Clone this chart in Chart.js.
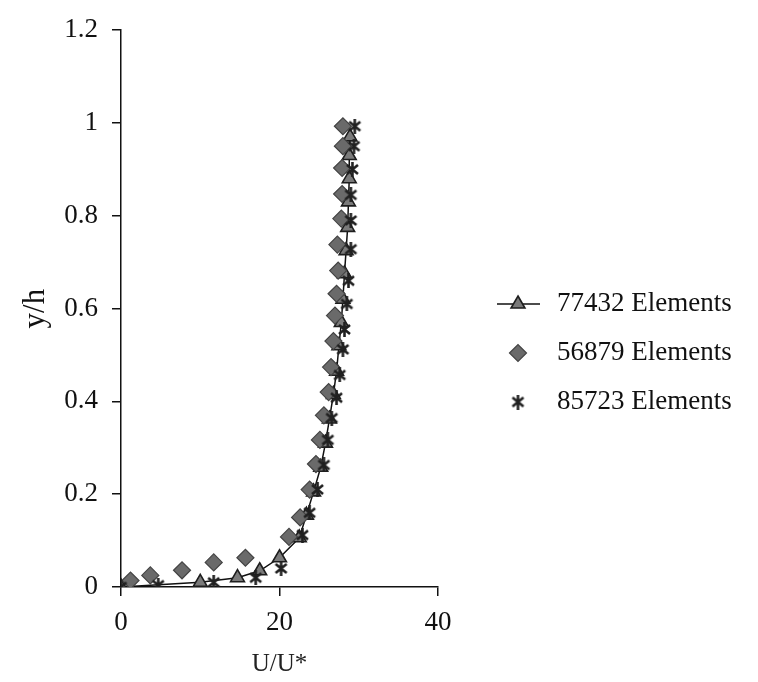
<!DOCTYPE html>
<html><head><meta charset="utf-8">
<script src="https://cdn.jsdelivr.net/npm/chart.js@4.4.1/dist/chart.umd.min.js"></script>
<style>html,body{margin:0;padding:0;background:#fff}#wrap{width:758px;height:682px}</style>
</head><body><div id="wrap"><canvas id="c" width="758" height="682"></canvas></div>
<script>
const seriesNames = ['77432 Elements', '56879 Elements', '85723 Elements'];

const x77432 = [0, 10, 14.7, 17.5, 20, 22.5, 23.4, 24.3, 25.2, 25.8, 26.3, 26.8, 27.2, 27.5, 27.8, 28.0, 28.2, 28.4, 28.6, 28.7, 28.8, 28.8, 28.9];
const y77432 = [0, 0.01, 0.02, 0.035, 0.063, 0.106, 0.155, 0.205, 0.258, 0.31, 0.362, 0.415, 0.465, 0.52, 0.57, 0.62, 0.675, 0.725, 0.775, 0.83, 0.88, 0.93, 0.97];

const x56879 = [1.2, 3.7, 7.7, 11.7, 15.7, 21.2, 22.6, 23.8, 24.6, 25.1, 25.6, 26.2, 26.5, 26.8, 27.0, 27.2, 27.4, 27.3, 27.8, 27.9, 27.9, 28.0, 28.0];
const y56879 = [0.014, 0.025, 0.036, 0.053, 0.063, 0.108, 0.15, 0.21, 0.265, 0.317, 0.37, 0.42, 0.474, 0.53, 0.585, 0.632, 0.682, 0.738, 0.794, 0.847, 0.903, 0.95, 0.993];

const x85723 = [0, 4.7, 11.7, 17.0, 20.2, 22.9, 23.8, 24.8, 25.6, 26.1, 26.6, 27.2, 27.6, 28.0, 28.2, 28.5, 28.7, 29.0, 29.0, 29.0, 29.2, 29.4, 29.5];
const y85723 = [0, 0.004, 0.01, 0.02, 0.04, 0.112, 0.16, 0.21, 0.263, 0.317, 0.364, 0.408, 0.457, 0.512, 0.555, 0.61, 0.66, 0.728, 0.79, 0.845, 0.9, 0.95, 0.993];

const xTicks = [0, 20, 40];
const yTicks = [0, 0.2, 0.4, 0.6, 0.8, 1, 1.2];

const xTitle = 'U/U*';
const yTitle = 'y/h';

function pts(xs, ys) { return xs.map((x, i) => ({x: x, y: ys[i]})); }

function makeStar(size, color, lw) {
  const c = document.createElement('canvas');
  c.width = size; c.height = size;
  const g = c.getContext('2d');
  g.strokeStyle = color; g.lineWidth = lw; g.lineCap = 'butt';
  const p = 2, q = size - 2;
  g.beginPath();
  g.moveTo(p, p + 1); g.lineTo(q, q - 1);
  g.moveTo(q, p + 1); g.lineTo(p, q - 1);
  g.moveTo(size / 2, 0); g.lineTo(size / 2, size);
  g.stroke();
  return c;
}
const starImg = makeStar(15, '#202020', 2.6);

const FONT = 'Liberation Serif';

const sideLegend = {
  id: 'sideLegend',
  afterDraw(chart) {
    const ctx = chart.ctx;
    const x0 = 497, x1 = 540, mx = 518, tx = 557;
    const rows = [304, 353, 402];
    chart.data.datasets.forEach((ds, i) => {
      const y = rows[i];
      ctx.save();
      if (ds.showLine) {
        ctx.strokeStyle = ds.borderColor; ctx.lineWidth = ds.borderWidth;
        ctx.beginPath(); ctx.moveTo(x0, y); ctx.lineTo(x1, y); ctx.stroke();
      }
      ctx.fillStyle = ds.pointBackgroundColor;
      ctx.strokeStyle = ds.pointBorderColor;
      ctx.lineWidth = ds.pointBorderWidth;
      Chart.helpers.drawPoint(ctx, {pointStyle: ds.pointStyle, radius: ds.pointRadius, rotation: 0, borderWidth: ds.pointBorderWidth}, mx, y);
      ctx.fillStyle = '#111';
      ctx.font = '27px "' + FONT + '"';
      ctx.textBaseline = 'middle';
      ctx.textAlign = 'left';
      ctx.fillText(ds.label, tx, y);
      ctx.restore();
    });
  }
};

new Chart(document.getElementById('c'), {
  type: 'scatter',
  data: {
    datasets: [
      {
        label: seriesNames[0], data: pts(x77432, y77432), showLine: true,
        borderColor: '#111', borderWidth: 1.5,
        pointStyle: 'triangle', pointRadius: 8, pointBackgroundColor: '#7a7a7a',
        pointBorderColor: '#1e1e1e', pointBorderWidth: 1.6, order: 2
      },
      {
        label: seriesNames[1], data: pts(x56879, y56879), showLine: false,
        pointStyle: 'rectRot', pointRadius: 8.5, pointBackgroundColor: '#6a6a6a',
        pointBorderColor: '#444', pointBorderWidth: 1.2, order: 1
      },
      {
        label: seriesNames[2], data: pts(x85723, y85723), showLine: false,
        pointStyle: starImg, pointRadius: 7.5, pointBackgroundColor: '#202020',
        pointBorderColor: '#202020', pointBorderWidth: 1, order: 0
      }
    ]
  },
  options: {
    responsive: false, animation: false, devicePixelRatio: 1,
    layout: {padding: {left: 0, top: 20, right: 320, bottom: 0}},
    plugins: {legend: {display: false}, tooltip: {enabled: false}},
    scales: {
      x: {
        type: 'linear', position: 'bottom', min: 0, max: 40,
        afterBuildTicks: s => { s.ticks = xTicks.map(v => ({value: v})); },
        afterFit: s => { s.height = 95; },
        grid: {display: true, drawOnChartArea: false, drawTicks: true, tickLength: 9, color: '#111', lineWidth: 1.5},
        border: {display: true, color: '#111', width: 1.5},
        ticks: {color: '#111', padding: 11, font: {family: FONT, size: 27}},
        title: {display: true, text: xTitle, color: '#222', font: {family: FONT, size: 25}, padding: {top: 0, bottom: 3}}
      },
      y: {
        type: 'linear', position: 'left', min: 0, max: 1.2,
        afterBuildTicks: s => { s.ticks = yTicks.map(v => ({value: v})); },
        afterFit: s => { s.width = 121; },
        grid: {display: true, drawOnChartArea: false, drawTicks: true, tickLength: 9, color: '#111', lineWidth: 1.5},
        border: {display: true, color: '#111', width: 1.5},
        ticks: {color: '#111', padding: 14, font: {family: FONT, size: 27},
          callback: v => String(Number(v.toFixed(2)))},
        title: {display: true, text: yTitle, color: '#111', font: {family: FONT, size: 31}, padding: {top: 17, bottom: 0}}
      }
    }
  },
  plugins: [sideLegend]
});
</script>
</body></html>
